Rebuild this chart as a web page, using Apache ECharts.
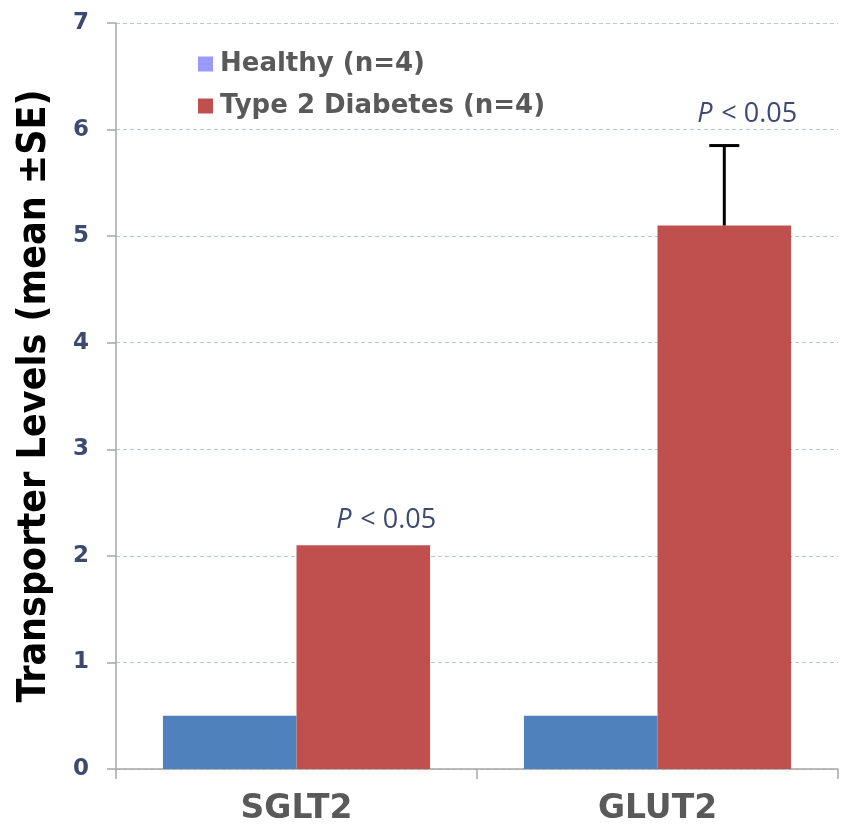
<!DOCTYPE html>
<html><head><meta charset="utf-8">
<script src="https://cdn.jsdelivr.net/npm/echarts@6/dist/echarts.min.js"></script>
<style>html,body{margin:0;padding:0;background:#fff}#c{width:846px;height:836px}</style>
</head><body><div id="c"></div>
<script>
var categories = ['SGLT2', 'GLUT2'];
var healthy = [0.5, 0.5];
var diabetes = [2.1, 5.1];
var diabetesSE = [null, 0.75];
var pLabels = ['< 0.05', '< 0.05'];
var yTicks = [0, 1, 2, 3, 4, 5, 6, 7];

var GAP = 0.26;
var chart = echarts.init(document.getElementById('c'));
var errData = categories.map(function (c, i) { return [i, diabetes[i], diabetesSE[i]]; }).filter(function (d) { return d[2] != null; });
var pData = categories.map(function (c, i) { return [i, diabetes[i] + (diabetesSE[i] || 0), diabetesSE[i] != null ? 1 : 0]; });

chart.setOption({
  animation: false,
  grid: { left: 116, right: 8, top: 23, bottom: 67, outerBoundsMode: 'none', containLabel: false },
  legend: {
    left: 193, top: 46, orient: 'vertical', itemGap: 16, itemWidth: 15, itemHeight: 15,
    icon: 'rect', selectedMode: false,
    textStyle: { fontFamily: 'DejaVu Sans', fontWeight: 'bold', fontSize: 26, color: '#595959', padding: [0, 0, 0, 2] },
    data: [
      { name: 'Healthy (n=4)', itemStyle: { color: '#9999ff' } },
      { name: 'Type 2 Diabetes (n=4)', itemStyle: { color: '#c0504d' } }
    ]
  },
  xAxis: {
    type: 'category', data: categories,
    axisLine: { lineStyle: { color: '#a6a6a6', width: 1.5 } },
    axisTick: { show: true, length: 10, lineStyle: { color: '#a6a6a6', width: 1.5 } },
    axisLabel: { margin: 24, fontFamily: 'DejaVu Sans', fontWeight: 'bold', fontSize: 33, color: '#595959' }
  },
  yAxis: {
    type: 'value', min: 0, max: 7, interval: 1,
    name: 'Transporter Levels (mean \u00b1SE)', nameLocation: 'middle', nameGap: 62,
    nameTextStyle: { fontFamily: 'DejaVu Sans Condensed', fontWeight: 'bold', fontSize: 39, color: '#000' },
    axisLine: { show: true, lineStyle: { color: '#a6a6a6', width: 1.5 } },
    axisTick: { show: true, length: 9, lineStyle: { color: '#a6a6a6', width: 1.5 } },
    axisLabel: { margin: 27, fontFamily: 'DejaVu Sans', fontWeight: 'bold', fontSize: 23, color: '#3b4a6e',
      formatter: function (v) { return yTicks.indexOf(v) >= 0 ? String(v) : ''; } },
    splitLine: { show: true, lineStyle: { color: '#b4c7dc', type: [4, 3], width: 1 } }
  },
  series: [
    { name: 'Healthy (n=4)', type: 'bar', data: healthy, barGap: '0%', barCategoryGap: (GAP * 100) + '%',
      itemStyle: { color: '#4f81bd' } },
    { name: 'Type 2 Diabetes (n=4)', type: 'bar', data: diabetes, barGap: '0%', barCategoryGap: (GAP * 100) + '%',
      itemStyle: { color: '#c0504d' } },
    { type: 'custom', data: errData, z: 5,
      renderItem: function (params, api) {
        var cat = api.value(0), v = api.value(1), se = api.value(2);
        var catW = api.size([1, 0])[0];
        var bw = catW * (1 - GAP) / 2;
        var base = api.coord([cat, v]);
        var top = api.coord([cat, v + se]);
        var x = base[0] + bw / 2;
        return { type: 'group', children: [
          { type: 'line', shape: { x1: x, y1: base[1], x2: x, y2: top[1] }, style: { stroke: '#000', lineWidth: 3 } },
          { type: 'line', shape: { x1: x - 15, y1: top[1], x2: x + 15, y2: top[1] }, style: { stroke: '#000', lineWidth: 3 } }
        ] };
      } },
    { type: 'custom', data: pData, z: 6,
      renderItem: function (params, api) {
        var cat = api.value(0), v = api.value(1), hasErr = api.value(2);
        var catW = api.size([1, 0])[0];
        var bw = catW * (1 - GAP) / 2;
        var p = api.coord([cat, v]);
        var cx = p[0] + bw / 2 + 24, cy = p[1] - (hasErr ? 31 : 25);
        return { type: 'group', children: [
          { type: 'text', x: cx - 51, y: cy, style: { text: 'P', font: 'italic 27px "Open Sans", "Liberation Sans"', fill: '#3b4a6e', verticalAlign: 'middle', align: 'left' } },
          { type: 'text', x: cx - 27, y: cy, style: { text: pLabels[params.dataIndex], font: '27px "Open Sans", "Liberation Sans"', fill: '#3b4a6e', verticalAlign: 'middle', align: 'left' } }
        ] };
      } }
  ]
});
</script></body></html>
